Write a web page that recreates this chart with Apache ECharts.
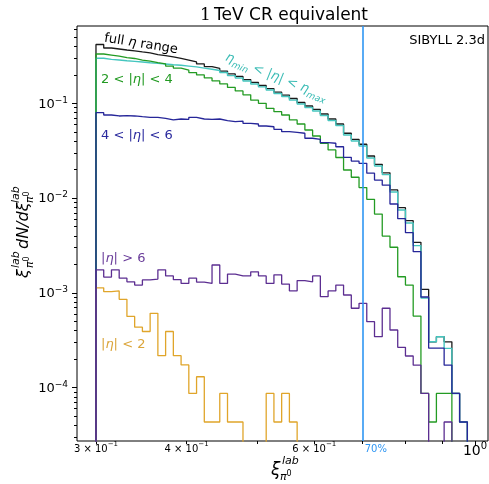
<!DOCTYPE html>
<html><head><meta charset="utf-8">
<script src="https://cdn.jsdelivr.net/npm/echarts@6/dist/echarts.min.js"></script>
<style>html,body{margin:0;padding:0;background:#fff}#c{width:489px;height:484px}</style>
</head><body><div id="c"></div>
<script>
// bin edges (log-spaced, 0.3 .. 1.0, 49 bins)
const binEdges = [0.3,0.307464,0.315114,0.322954,0.330989,0.339224,0.347664,0.356314,0.365179,0.374265,
 0.383576,0.39312,0.4029,0.412925,0.423198,0.433728,0.444519,0.455578,0.466913,0.47853,
 0.490436,0.502638,0.515143,0.52796,0.541096,0.554558,0.568355,0.582496,0.596988,0.611841,
 0.627064,0.642665,0.658655,0.675042,0.691837,0.70905,0.726691,0.744771,0.763301,0.782292,
 0.801755,0.821703,0.842147,0.863099,0.884573,0.906581,0.929137,0.952254,0.975946,1.0];

const fullEta = [0.417,0.383,0.374,0.365,0.357,0.348,0.340,0.327,0.319,0.308,
 0.297,0.286,0.273,0.260,0.244,0.233,0.219,0.204,0.192,0.178,
 0.166,0.154,0.143,0.131,0.122,0.1124,0.102,0.0937,0.0861,0.0771,
 0.0683,0.0605,0.0483,0.0417,0.0370,0.0278,0.0227,0.0185,0.0122,0.00792,
 0.00578,0.00342,0.00109,3.05e-4,3.45e-4,3.05e-4,8.7e-5,4.35e-5,0];
const etaMinMax = [0.299,0.291,0.286,0.281,0.277,0.273,0.268,0.264,0.260,0.255,
 0.252,0.247,0.242,0.235,0.229,0.222,0.211,0.196,0.185,0.172,
 0.160,0.149,0.138,0.127,0.118,0.108,0.0984,0.0903,0.0830,0.0744,
 0.0659,0.0583,0.0463,0.0400,0.0355,0.0265,0.0218,0.0177,0.0116,0.00748,
 0.00546,0.00315,8.83e-4,3.05e-4,3.45e-4,2.6e-4,8.7e-5,4.35e-5,0];
const eta2to4 = [0.331,0.323,0.315,0.304,0.297,0.286,0.279,0.269,0.260,0.247,
 0.235,0.224,0.211,0.199,0.185,0.172,0.160,0.147,0.135,0.123,
 0.108,0.100,0.0885,0.0815,0.0753,0.0667,0.0605,0.0523,0.0452,0.0379,
 0.0322,0.0268,0.0198,0.0166,0.0129,0.00971,0.00679,0.00398,0.00303,0.00148,
 0.00121,5.70e-4,8.7e-5,4.35e-5,8.7e-5,8.7e-5,0,0,0];
const eta4to6 = [0.0796,0.0753,0.0735,0.0740,0.0735,0.0723,0.0712,0.0712,0.0695,0.0667,
 0.0683,0.0678,0.0712,0.0683,0.0678,0.0683,0.0655,0.0640,0.0650,0.0615,
 0.0605,0.0576,0.0566,0.0532,0.0502,0.0494,0.0483,0.0428,0.0417,0.0384,
 0.0379,0.0348,0.0269,0.0246,0.0233,0.0183,0.0155,0.0137,0.00867,0.00607,
 0.00432,0.00272,9.05e-4,2.61e-4,2.61e-4,1.73e-4,8.7e-5,4.35e-5,0];
const etaAbove6 = [1.75e-3,1.47e-3,1.75e-3,1.43e-3,1.31e-3,1.21e-3,1.37e-3,1.40e-3,1.75e-3,1.51e-3,
 1.38e-3,1.26e-3,1.43e-3,1.30e-3,1.26e-3,1.97e-3,1.26e-3,1.58e-3,1.51e-3,1.51e-3,
 1.67e-3,1.51e-3,1.26e-3,1.55e-3,1.24e-3,1.05e-3,1.35e-3,1.31e-3,1.51e-3,9.12e-4,
 1.05e-3,1.21e-3,9.5e-4,6.89e-4,7.77e-4,4.97e-4,3.45e-4,6.89e-4,4.06e-4,2.67e-4,
 2.16e-4,1.73e-4,8.7e-5,0,0,4.35e-5,0,0,0];
const etaBelow2 = [1.131e-3,1.03e-3,1.05e-3,8.55e-4,5.655e-4,4.35e-4,3.915e-4,6.09e-4,2.175e-4,3.915e-4,
 2.175e-4,1.74e-4,8.7e-5,1.305e-4,4.35e-5,4.35e-5,8.7e-5,4.35e-5,4.35e-5,0,
 0,0,8.7e-5,4.35e-5,8.7e-5,4.35e-5,0,0,0,0,
 0,0,0,0,0,0,0,0,0,0,
 0,0,0,0,0,0,0,0,0];

const xLabelTicks = [0.3,0.4,0.6,1.0];
const xMinorTicks = [0.3,0.4,0.5,0.6,0.7,0.8,0.9];
const xMajorTicks = [1.0];
const yMajorTicks = [1e-4,1e-3,1e-2,1e-1];
const yMinorTicks = [3e-5,4e-5,5e-5,6e-5,7e-5,8e-5,9e-5,
 2e-4,3e-4,4e-4,5e-4,6e-4,7e-4,8e-4,9e-4,
 2e-3,3e-3,4e-3,5e-3,6e-3,7e-3,8e-3,9e-3,
 2e-2,3e-2,4e-2,5e-2,6e-2,7e-2,8e-2,9e-2,
 2e-1,3e-1,4e-1,5e-1,6e-1];
const cutValue = 0.7;
const cutLabel = '70%';

const X_MIN = 0.28245, X_MAX = 1.0421;
const Y_MIN = 2.741e-5, Y_MAX = 0.6537;
const FLOOR = 1e-12;
const FF = '"DejaVu Sans"';

function stepData(vals){
  const pts = [[binEdges[0], FLOOR]];
  vals.forEach((v,i)=>pts.push([binEdges[i], v>0 ? v : FLOOR]));
  pts.push([binEdges[vals.length], FLOOR]);
  return pts;
}
const tickLine = {color:'#000', width:1};
function xAxisBase(){
  return {type:'log', logBase:10, min:X_MIN, max:X_MAX, position:'bottom',
    axisLine:{show:false, onZero:false}, splitLine:{show:false}, minorTick:{show:false}, minorSplitLine:{show:false}};
}
function yAxisBase(){
  return {type:'log', logBase:10, min:Y_MIN, max:Y_MAX, position:'left',
    axisLine:{show:false, onZero:false}, splitLine:{show:false}, minorTick:{show:false}, minorSplitLine:{show:false}};
}
const fmtX = v => Math.abs(v-1) < 1e-6 ? '{B|10}{S|0}' : '{b|' + Math.round(v*10) + ' × 10}{s|−1}';
const fmtY = v => '{b|10}{s|−' + Math.round(-Math.log10(v)) + '}';

function line(name, vals, color, width){
  return {name, type:'line', step:'end', data: stepData(vals), xAxisIndex:0, yAxisIndex:0,
    showSymbol:false, symbol:'none', clip:true, silent:true,
    lineStyle:{color, width: width||1.3}, itemStyle:{color}};
}
const cutColor = '#2f96f3';
const purple = line('|η|>6', etaAbove6, '#5c2e91');
purple.markLine = {silent:true, symbol:['none','none'], animation:false,
  lineStyle:{color:cutColor, width:1.6, type:'solid'}, label:{show:false},
  data:[{xAxis: cutValue}]};

const chart = echarts.init(document.getElementById('c'));
chart.setOption({
  animation:false,
  backgroundColor:'#fff',
  grid:{left:77, top:26, right:1, bottom:43, show:true, borderColor:'#000', borderWidth:1,
    backgroundColor:'transparent', containLabel:false, outerBoundsMode:'none'},
  xAxis:[
    Object.assign(xAxisBase(), {
      axisTick:{show:true, customValues:xMinorTicks, length:3, lineStyle:tickLine},
      axisLabel:{show:true, customValues:xLabelTicks, margin:1, color:'#000', formatter:fmtX,
        rich:{
          b:{fontSize:10, fontFamily:FF, color:'#000', lineHeight:12, verticalAlign:'bottom'},
          s:{fontSize:7, fontFamily:FF, color:'#000', lineHeight:8, padding:[0,0,6,0], verticalAlign:'bottom'},
          B:{fontSize:14, fontFamily:FF, color:'#000', lineHeight:16, verticalAlign:'bottom'},
          S:{fontSize:10, fontFamily:FF, color:'#000', lineHeight:11, padding:[0,0,7,0], verticalAlign:'bottom'}
        }}
    }),
    Object.assign(xAxisBase(), {
      axisTick:{show:true, customValues:xMajorTicks, length:5, lineStyle:tickLine},
      axisLabel:{show:true, customValues:[cutValue], margin:3, formatter:()=>cutLabel, align:'left',
        color:cutColor, fontSize:10, fontFamily:FF, padding:[0,0,0,2]}
    })
  ],
  yAxis:[
    Object.assign(yAxisBase(), {
      axisTick:{show:true, customValues:yMajorTicks, length:5, lineStyle:tickLine},
      axisLabel:{show:true, customValues:yMajorTicks, margin:9, color:'#000', formatter:fmtY,
        rich:{
          b:{fontSize:13, fontFamily:FF, color:'#000', lineHeight:15, verticalAlign:'bottom'},
          s:{fontSize:9, fontFamily:FF, color:'#000', lineHeight:10, padding:[0,0,6,0], verticalAlign:'bottom'}
        }}
    }),
    Object.assign(yAxisBase(), {
      axisTick:{show:true, customValues:yMinorTicks, length:3, lineStyle:tickLine},
      axisLabel:{show:false}
    })
  ],
  series:[
    line('full η range', fullEta, '#1a1a1a'),
    line('ηmin<|η|<ηmax', etaMinMax, '#45c6bf', 1.4),
    line('2<|η|<4', eta2to4, '#239b23'),
    line('|η|<2', etaBelow2, '#e0a52a'),
    line('4<|η|<6', eta4to6, '#262699'),
    purple
  ],
  graphic:[
    {type:'text', x:284, y:16, style:{text:'{n|1} {t|TeV CR equivalent}', align:'center', verticalAlign:'middle',
      rich:{n:{fontSize:17, fontFamily:'"DejaVu Serif"', fill:'#000'}, t:{fontSize:17, fontFamily:FF, fill:'#000'}}}},
    {type:'text', x:485, y:41, style:{text:'SIBYLL 2.3d', align:'right', verticalAlign:'middle', fontSize:13, fontFamily:FF, fill:'#000'}},
    {type:'text', x:141, y:44, rotation:-0.16, style:{text:'full {i|η} range', align:'center', verticalAlign:'middle', fontSize:13, fontFamily:FF, fill:'#000',
      rich:{i:{fontSize:13, fontFamily:FF, fontStyle:'italic', fill:'#000'}}}},
    {type:'text', x:276, y:78, rotation:-0.38, style:{text:'{e|η}{s|min}{n| < |}{e|η}{n|| < }{e|η}{s|max}', align:'center', verticalAlign:'middle',
      rich:{e:{fontSize:13, fontFamily:FF, fontStyle:'italic', fill:'#3bbcb5', lineHeight:15, verticalAlign:'top'},
            n:{fontSize:13, fontFamily:FF, fill:'#3bbcb5', lineHeight:15, verticalAlign:'top'},
            s:{fontSize:9, fontFamily:FF, fontStyle:'italic', fill:'#3bbcb5', lineHeight:10, padding:[7,0,0,0], verticalAlign:'top'}}}},
    {type:'text', x:101, y:80, style:{text:'2 < |{i|η}| < 4', verticalAlign:'middle', fontSize:13, fontFamily:FF, fill:'#229a22',
      rich:{i:{fontSize:13, fontFamily:FF, fontStyle:'italic', fill:'#229a22'}}}},
    {type:'text', x:101, y:136, style:{text:'4 < |{i|η}| < 6', verticalAlign:'middle', fontSize:13, fontFamily:FF, fill:'#2a2a9e',
      rich:{i:{fontSize:13, fontFamily:FF, fontStyle:'italic', fill:'#2a2a9e'}}}},
    {type:'text', x:101, y:259, style:{text:'|{i|η}| > 6', verticalAlign:'middle', fontSize:13, fontFamily:FF, fill:'#6a3d9a',
      rich:{i:{fontSize:13, fontFamily:FF, fontStyle:'italic', fill:'#6a3d9a'}}}},
    {type:'text', x:101, y:345, style:{text:'|{i|η}| < 2', verticalAlign:'middle', fontSize:13, fontFamily:FF, fill:'#dba53a',
      rich:{i:{fontSize:13, fontFamily:FF, fontStyle:'italic', fill:'#dba53a'}}}},
    // x axis title
    {type:'text', x:271, y:471, style:{text:'ξ', verticalAlign:'middle', fontSize:17, fontFamily:FF, fontStyle:'italic', fill:'#000'}},
    {type:'text', x:282, y:461, style:{text:'lab', verticalAlign:'middle', fontSize:11, fontFamily:FF, fontStyle:'italic', fill:'#000'}},
    {type:'text', x:280, y:477, style:{text:'π', verticalAlign:'middle', fontSize:11, fontFamily:FF, fontStyle:'italic', fill:'#000'}},
    {type:'text', x:286.5, y:474, style:{text:'0', verticalAlign:'middle', fontSize:8, fontFamily:FF, fill:'#000'}},
    // y axis title (rotated group)
    {type:'group', x:23.5, y:278, rotation:Math.PI/2, children:[
      {type:'text', x:0, y:0, style:{text:'ξ', verticalAlign:'middle', fontSize:16, fontFamily:FF, fontStyle:'italic', fill:'#000'}},
      {type:'text', x:10, y:-7.5, style:{text:'lab', verticalAlign:'middle', fontSize:11, fontFamily:FF, fontStyle:'italic', fill:'#000'}},
      {type:'text', x:10, y:6.5, style:{text:'π', verticalAlign:'middle', fontSize:11, fontFamily:FF, fontStyle:'italic', fill:'#000'}},
      {type:'text', x:16.5, y:3.5, style:{text:'0', verticalAlign:'middle', fontSize:8, fontFamily:FF, fill:'#000'}},
      {type:'text', x:29, y:0, style:{text:'dN/dξ', verticalAlign:'middle', fontSize:16, fontFamily:FF, fontStyle:'italic', fill:'#000'}},
      {type:'text', x:75, y:-7.5, style:{text:'lab', verticalAlign:'middle', fontSize:11, fontFamily:FF, fontStyle:'italic', fill:'#000'}},
      {type:'text', x:75, y:6.5, style:{text:'π', verticalAlign:'middle', fontSize:11, fontFamily:FF, fontStyle:'italic', fill:'#000'}},
      {type:'text', x:81.5, y:3.5, style:{text:'0', verticalAlign:'middle', fontSize:8, fontFamily:FF, fill:'#000'}}
    ]}
  ]
});
</script></body></html>
